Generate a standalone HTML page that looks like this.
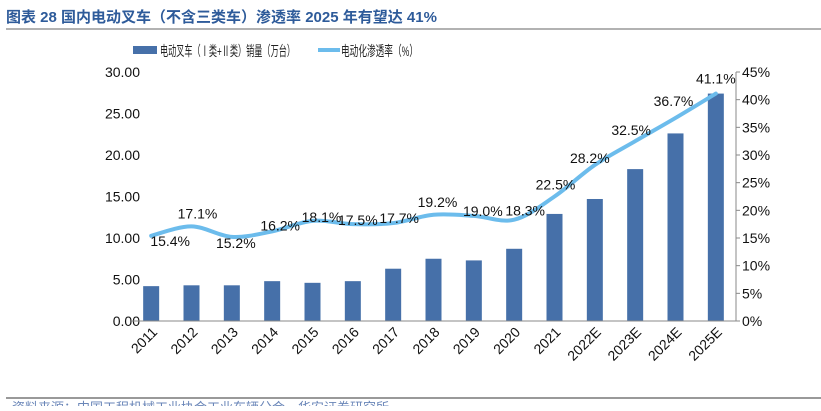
<!DOCTYPE html>
<html><head><meta charset="utf-8"><style>
body{margin:0;background:#fff;width:821px;height:406px;overflow:hidden}
text{font-family:"Liberation Sans","Noto Sans CJK SC",sans-serif}
</style></head><body>
<svg id="c" width="821" height="406" xmlns="http://www.w3.org/2000/svg">
<text x="6" y="22" font-size="15" font-weight="bold" fill="#2e5b9a">图表 28 国内电动叉车（不含三类车）渗透率 2025 年有望达 41%</text>
<line x1="6" y1="29" x2="821" y2="29" stroke="#999" stroke-width="1.5"/>
<g>
<rect x="133" y="46" width="24" height="8" fill="#4670a9"/>
<text x="160" y="56" font-size="14" fill="#222" textLength="135" lengthAdjust="spacingAndGlyphs">电动叉车（Ⅰ类+Ⅱ类）销量（万台）</text>
<line x1="318" y1="50" x2="340" y2="50" stroke="#6cbcec" stroke-width="4"/>
<text x="341" y="56" font-size="14" fill="#222" textLength="77" lengthAdjust="spacingAndGlyphs">电动化渗透率（%）</text>
</g>
<g id="plot"></g>
<line x1="6" y1="398" x2="821" y2="398" stroke="#333" stroke-width="1"/>
<text x="12" y="412" font-size="13" fill="#6a86b8">资料来源：中国工程机械工业协会工业车辆分会，华安证券研究所</text>
</svg>
<script>
const categories=["2011","2012","2013","2014","2015","2016","2017","2018","2019","2020","2021","2022E","2023E","2024E","2025E"];
const sales=[4.2,4.3,4.3,4.8,4.6,4.8,6.3,7.5,7.3,8.7,12.9,14.7,18.3,22.6,27.4];
const penetration=[15.4,17.1,15.2,16.2,18.1,17.5,17.7,19.2,19.0,18.3,22.5,28.2,32.5,36.7,41.1];
const leftTicks=["0.00","5.00","10.00","15.00","20.00","25.00","30.00"];
const rightTicks=["0%","5%","10%","15%","20%","25%","30%","35%","40%","45%"];
const labelDx=[19,6,4,8,9,5,6,4,9,11,1,-5,-4,-2,0];
const labelDy=[5,-13,6,-6,-4,-4,-5,-13,-5,-9,-12,-7,-11,-17,-15];
const NS="http://www.w3.org/2000/svg";
const g=document.getElementById("plot");
const X0=131,X1=736,Y0=321,Y1=72;
const bw=(X1-X0)/categories.length;
const xc=i=>X0+bw*(i+0.5);
const yL=v=>Y0-(v/30)*(Y0-Y1);
const yR=v=>Y0-(v/45)*(Y0-Y1);
function mk(t,a){const e=document.createElementNS(NS,t);for(const k in a)e.setAttribute(k,a[k]);g.appendChild(e);return e;}
leftTicks.forEach((t,i)=>{const e=mk("text",{x:140,y:yL(i*5)+5,"font-size":14,"text-anchor":"end",fill:"#111"});e.textContent=t;

});
rightTicks.forEach((t,i)=>{const e=mk("text",{x:742,y:yR(i*5)+5,"font-size":14,fill:"#111"});e.textContent=t;


const tk=mk("line",{x1:736,x2:740,y1:yR(i*5),y2:yR(i*5),stroke:"#888"});

});
const ra=mk("line",{x1:736,x2:736,y1:Y1,y2:Y0,stroke:"#888"});


sales.forEach((v,i)=>{const r=mk("rect",{x:xc(i)-8,y:yL(v),width:16,height:Y0-yL(v),fill:"#4670a9"});

});
const xa=mk("line",{x1:X0,x2:X1,y1:Y0,y2:Y0,stroke:"#888"});


categories.forEach((c,i)=>{const x=xc(i),y=333;const e=mk("text",{x:x+7,y:y,"font-size":14,"text-anchor":"end",fill:"#111",transform:`rotate(-45 ${x+7} ${y})`});e.textContent=c;

});
const pts=penetration.map((v,i)=>[xc(i),yR(v)]);
let d=`M${pts[0][0]},${pts[0][1]}`;
for(let i=0;i<pts.length-1;i++){const p0=pts[Math.max(0,i-1)],p1=pts[i],p2=pts[i+1],p3=pts[Math.min(pts.length-1,i+2)];
const c1=[p1[0]+(p2[0]-p0[0])/6,p1[1]+(p2[1]-p0[1])/6],c2=[p2[0]-(p3[0]-p1[0])/6,p2[1]-(p3[1]-p1[1])/6];
d+=` C${c1[0]},${c1[1]} ${c2[0]},${c2[1]} ${p2[0]},${p2[1]}`;}
const ln=mk("path",{d:d,fill:"none",stroke:"#6cbcec","stroke-width":4,"stroke-linecap":"round"});


penetration.forEach((v,i)=>{const e=mk("text",{x:xc(i)+labelDx[i],y:yR(v)+labelDy[i]+5,"font-size":14,"text-anchor":"middle",fill:"#111"});e.textContent=v.toFixed(1)+"%";

});
</script>
</body></html>
